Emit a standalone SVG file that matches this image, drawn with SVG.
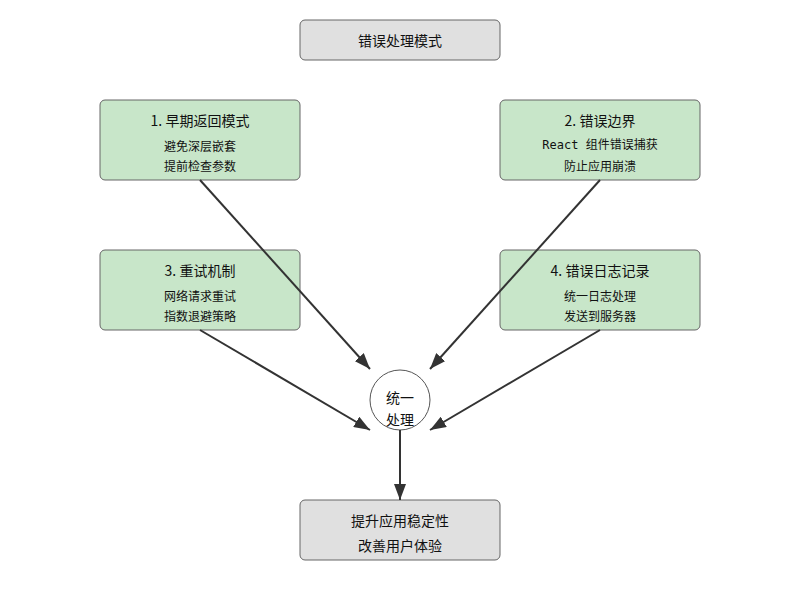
<svg xmlns="http://www.w3.org/2000/svg" width="800" height="600" viewBox="0 0 800 600">
<style>
.gray{fill:#e0e0e0;stroke:#666;stroke-width:1}
.green{fill:#c8e6c9;stroke:#666;stroke-width:1}
.circ{fill:#fff;stroke:#555;stroke-width:1}
text{font-family:"Noto Sans CJK SC","Liberation Sans",sans-serif;fill:#111;text-anchor:middle;dominant-baseline:central}
.t{font-size:14px}
.s{font-size:12px}
.mono{font-family:"DejaVu Sans Mono","Noto Sans CJK SC",monospace}
.edge{stroke:#333;stroke-width:2;fill:none;marker-end:url(#arr)}
</style>
<defs>
<marker id="arr" viewBox="0 0 16 12" refX="16" refY="6" markerWidth="16" markerHeight="12" orient="auto" markerUnits="userSpaceOnUse">
<path d="M0,0 L16,6 L0,12 z" fill="#333"/>
</marker>
</defs>
<rect width="800" height="600" fill="#fff"/>
<g id="title">
<rect class="gray" x="300" y="20" width="200" height="40" rx="5"/>
<text class="t" x="400" y="40">错误处理模式</text>
</g>
<g id="early-return">
<rect class="green" x="100" y="100" width="200" height="80" rx="5"/>
<text class="t" x="200" y="120">1. 早期返回模式</text>
<text class="s" x="200" y="145">避免深层嵌套</text>
<text class="s" x="200" y="165">提前检查参数</text>
</g>
<g id="error-boundary">
<rect class="green" x="500" y="100" width="200" height="80" rx="5"/>
<text class="t" x="600" y="120">2. 错误边界</text>
<text class="s mono" x="600" y="145">React 组件错误捕获</text>
<text class="s" x="600" y="165">防止应用崩溃</text>
</g>
<g id="retry">
<rect class="green" x="100" y="250" width="200" height="80" rx="5"/>
<text class="t" x="200" y="270">3. 重试机制</text>
<text class="s" x="200" y="295">网络请求重试</text>
<text class="s" x="200" y="315">指数退避策略</text>
</g>
<g id="logging">
<rect class="green" x="500" y="250" width="200" height="80" rx="5"/>
<text class="t" x="600" y="270">4. 错误日志记录</text>
<text class="s" x="600" y="295">统一日志处理</text>
<text class="s" x="600" y="315">发送到服务器</text>
</g>
<g id="unified">
<circle class="circ" cx="400" cy="400" r="30"/>
<text class="t" x="400" y="397">统一</text>
<text class="t" x="400" y="419">处理</text>
</g>
<g id="result">
<rect class="gray" x="300" y="500" width="200" height="60" rx="5"/>
<text class="t" x="400" y="520">提升应用稳定性</text>
<text class="t" x="400" y="545">改善用户体验</text>
</g>
<g id="connectors">
<path class="edge" d="M200,180 L370,369"/>
<path class="edge" d="M600,180 L430,369"/>
<path class="edge" d="M200,330 L370,430"/>
<path class="edge" d="M600,330 L430,430"/>
<path class="edge" d="M400,430 L400,500"/>
</g>
</svg>
